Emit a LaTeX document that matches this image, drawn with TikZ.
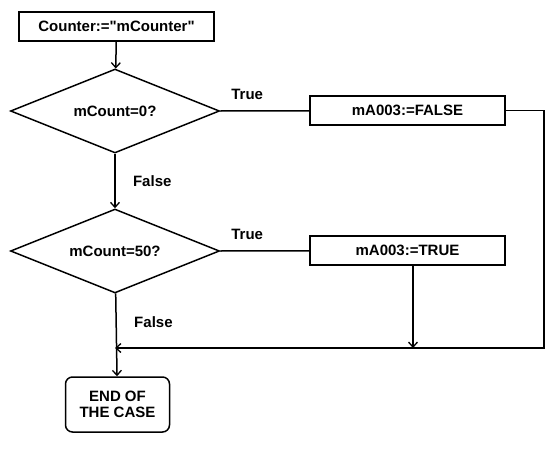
\documentclass[tikz,border=0pt]{standalone}
\usepackage{fontspec}
\setmainfont{Liberation Sans}[Ligatures=TeXOff]
\usetikzlibrary{shapes.geometric,arrows.meta,positioning}

\begin{document}
\begin{tikzpicture}[x=1pt, y=-1pt, line width=1.5pt,
        font=\fontsize{15}{16.5}\selectfont\bfseries,
        >={Straight Barb[length=5pt,width=9pt,line width=1.3pt]},
        box/.style = {draw, rectangle, minimum width=195pt, minimum height=29pt, inner sep=0pt},
        test/.style = {draw, diamond, aspect=2.5, minimum width=209pt, minimum height=84pt, inner sep=0pt},
        stop/.style = {draw, rectangle, rounded corners=7pt, minimum width=104pt, minimum height=55pt, align=center, inner sep=0pt}]
        \useasboundingbox (0,0) rectangle (558,461);

        \node[box] (init) at (116.5,26.5) {Counter:="mCounter"};
        \node[test] (zero) at (115,111) {mCount=0?};
        \node[test] (fifty) at (115,251) {mCount=50?};
        \node[box] (setF) at (407.5,110.5) {mA003:=FALSE};
        \node[box] (setT) at (407.5,250.5) {mA003:=TRUE};
        \node[stop] (end) at (117.5,404.5) {END OF\\THE CASE};
        \node (yesZ) [above right=7pt and 7pt of zero.east] {True};
        \node (yesF) [above right=7pt and 7pt of fifty.east] {True};

        \coordinate (rbot) at (544,348);
        \coordinate (merge) at (115,348);

        \draw[->] (init) -- (zero);
        \draw[->] (zero) -- (fifty) node [pos=0.5, right=14pt] (noZ) {False};
        \draw[->] (fifty) -- (end) node [pos=0.35, right=14pt] (noF) {False};
        \draw (zero.east) -- (setF);
        \draw (fifty.east) -- (setT);
        \draw[->] (setF.east) -- (setF.east -| rbot) -- (rbot) -- (merge);
        \draw[->] ([xshift=5.5pt]setT.south) -- ([xshift=5.5pt]setT.south |- rbot);
    \end{tikzpicture}
\end{document}
